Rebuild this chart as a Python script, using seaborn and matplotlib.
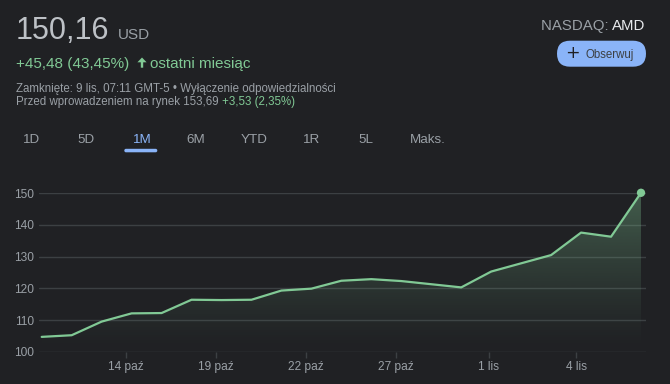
import numpy as np
import pandas as pd
import matplotlib
matplotlib.use("Agg")
import matplotlib.pyplot as plt
import seaborn as sns
from matplotlib.patches import FancyBboxPatch, Polygon

# ---- data ----
day_index = list(range(21))
prices = [104.68, 105.2, 109.5, 112.1, 112.2, 116.4, 116.3, 116.4, 119.3, 119.9,
          122.4, 122.9, 122.3, 121.3, 120.3, 125.3, 127.9, 130.5, 137.6, 136.3, 150.16]
tick_pos = [2.81, 5.82, 8.82, 11.82, 14.92, 17.84]
tick_labels = ["14 paź", "19 paź", "22 paź", "27 paź", "1 lis", "4 lis"]
y_ticks = [100, 110, 120, 130, 140, 150]
tabs = ["1D", "5D", "1M", "6M", "YTD", "1R", "5L", "Maks."]
tab_x = [23.3, 77.7, 132.7, 186.7, 241, 302.7, 358.3, 410]

BG = "#202124"
GREEN = "#81c995"
GREY = "#9aa0a6"
LIGHT = "#bdc1c6"
BLUE = "#8ab4f8"
GRID = "#3c4043"

sns.set_theme(style="dark", rc={"figure.facecolor": BG, "axes.facecolor": BG})
plt.rcParams["font.family"] = ["Liberation Sans", "DejaVu Sans"]

W, H = 670, 384
fig = plt.figure(figsize=(W / 100, H / 100), dpi=100)
fig.patch.set_facecolor(BG)

# axes in pixel geometry
left_px, right_px = 38.5, 646.0
bot_px, top_px = 351.7, 193.3
ax = fig.add_axes([left_px / W, (H - bot_px) / H, (right_px - left_px) / W, (bot_px - top_px) / H])
ax.set_facecolor(BG)

df = pd.DataFrame({"day": day_index, "price": prices})
step = (641.0 - 41.7) / 20
ax.set_xlim(-(41.7 - left_px) / step, 20 + (right_px - 641.0) / step)
ax.set_ylim(100, 150)

# gradient fill under line
poly = ax.fill_between(df["day"], df["price"], 100, color="none", lw=0)
grad = np.linspace(0, 1, 256).reshape(-1, 1)
rgba = np.zeros((256, 1, 4))
r, g, b = matplotlib.colors.to_rgb(GREEN)
rgba[..., 0] = r
rgba[..., 1] = g
rgba[..., 2] = b
rgba[..., 3] = 0.36 * grad ** 1.3
im = ax.imshow(rgba, extent=[0, 20, 100, 150], origin="lower", aspect="auto", zorder=1)
im.set_clip_path(poly.get_paths()[0], transform=ax.transData)

sns.lineplot(data=df, x="day", y="price", ax=ax, color=GREEN, lw=1.6, zorder=3)
sns.scatterplot(data=df.iloc[[-1]], x="day", y="price", ax=ax, color=GREEN, s=36,
                edgecolor="none", zorder=4, clip_on=False)

for spine in ax.spines.values():
    spine.set_visible(False)
ax.set_yticks(y_ticks)
ax.set_yticklabels([str(v) for v in y_ticks], color=GREY, fontsize=8.6)
ax.yaxis.grid(True, color=GRID, lw=1)
ax.set_axisbelow(True)
ax.tick_params(axis="y", length=0, pad=3)
ax.set_xticks(tick_pos)
ax.set_xticklabels(tick_labels, color=GREY, fontsize=8.6)
ax.tick_params(axis="x", length=4.5, width=1, color=GRID, pad=2, bottom=True)
ax.xaxis.grid(False)
ax.set_xlabel("")
ax.set_ylabel("")

def px(x, y):
    return x / W, 1 - y / H

def inch(x, y):
    return x / 100, (H - y) / 100

# header
fig.text(*px(16, 39.3), "150,16", fontsize=22, color=LIGHT, va="baseline", ha="left")
fig.text(*px(118, 39.3), "USD", fontsize=11, color=GREY, va="baseline", ha="left")
fig.text(*px(16, 67.7), "+45,48 (43,45%)", fontsize=11, color=GREEN, va="baseline", ha="left")
# up arrow (filled)
ax_cx = 142.0
arrow_pts = [inch(ax_cx, 57.5), inch(ax_cx + 4.6, 62.3), inch(ax_cx + 1.2, 62.3),
             inch(ax_cx + 1.2, 67.7), inch(ax_cx - 1.2, 67.7), inch(ax_cx - 1.2, 62.3),
             inch(ax_cx - 4.6, 62.3)]
fig.patches.append(Polygon(arrow_pts, closed=True, transform=fig.dpi_scale_trans,
                           facecolor=GREEN, edgecolor="none"))
fig.text(*px(150, 67.7), "ostatni miesiąc", fontsize=11, color=GREEN, va="baseline", ha="left")
fig.text(*px(16, 92), "Zamknięte: 9 lis, 07:11 GMT-5 • Wyłączenie odpowiedzialności", fontsize=8.3,
         color=GREY, va="baseline", ha="left")
t4 = fig.text(*px(16, 105), "Przed wprowadzeniem na rynek 153,69 ", fontsize=8.3, color=GREY,
              va="baseline", ha="left")
fig.canvas.draw()
rend = fig.canvas.get_renderer()
bb = t4.get_window_extent(rend)
fig.text(bb.x1 / W, 1 - 105 / H, "+3,53 (2,35%)", fontsize=8.3, color=GREEN, va="baseline", ha="left")

tamd = fig.text(*px(645.7, 30), "AMD", fontsize=10.8, color="#e8eaed", va="baseline", ha="right")
fig.canvas.draw()
bb2 = tamd.get_window_extent(rend)
fig.text(bb2.x0 / W, 1 - 30 / H, "NASDAQ: ", fontsize=10.8, color=GREY, va="baseline", ha="right")

# follow button
btn = FancyBboxPatch(inch(557, 66.7), (646 - 557) / 100, 26 / 100,
                     boxstyle="round,pad=0,rounding_size=0.13", transform=fig.dpi_scale_trans,
                     facecolor=BLUE, edgecolor="none")
fig.patches.append(btn)
fig.text(*px(572.7, 53.5), "+", fontsize=12.5, color="#202124", va="center", ha="center",
         family=["DejaVu Sans"])
fig.text(*px(585.7, 58), "Obserwuj", fontsize=8.3, color="#3c4043", va="baseline", ha="left")

# tabs
for lab, x in zip(tabs, tab_x):
    fig.text(*px(x, 142.6), lab, fontsize=9.6, color=BLUE if lab == "1M" else GREY,
             va="baseline", ha="left")
ul = FancyBboxPatch(inch(124.3, 152.3), 33 / 100, 3.5 / 100,
                    boxstyle="round,pad=0,rounding_size=0.017", transform=fig.dpi_scale_trans,
                    facecolor=BLUE, edgecolor="none")
fig.patches.append(ul)

fig.savefig("out.png", dpi=100, facecolor=BG)
